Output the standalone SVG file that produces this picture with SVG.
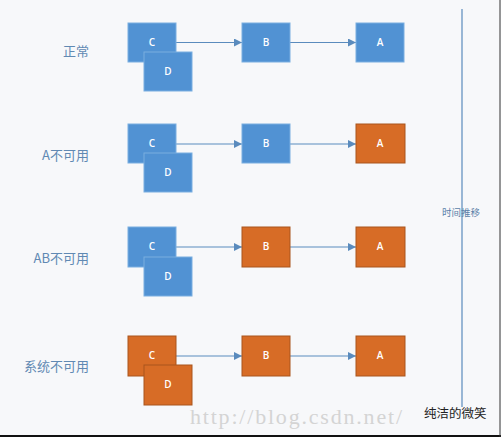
<svg xmlns="http://www.w3.org/2000/svg" width="501" height="437" viewBox="0 0 501 437">
<defs>
<marker id="ah" viewBox="0 0 10 10" refX="10" refY="5" markerWidth="8" markerHeight="8" markerUnits="userSpaceOnUse" orient="auto">
<path d="M0,0 L10,5 L0,10 z" fill="#5a8bbd"/>
</marker>
<style>
.blue{fill:#5192d3;stroke:#7aaee0;stroke-width:1}
.orange{fill:#d76c26;stroke:#a9541c;stroke-width:1}
.bl{font-family:"Open Sans","Liberation Sans",sans-serif;font-size:10px;font-weight:600;fill:#ffffff;text-anchor:middle}
.lab{font-family:"Noto Sans CJK SC","Noto Sans",sans-serif;font-size:13px;fill:#6089b3;text-anchor:end}
.con{stroke:#5a8bbd;stroke-width:1.2;fill:none}
</style>
</defs>
<rect width="501" height="437" fill="#f7f8fa"/>

<g id="labels">
<text class="lab" x="89" y="56">正常</text>
<text class="lab" x="89" y="160">A不可用</text>
<text class="lab" x="89" y="263">AB不可用</text>
<text class="lab" x="89" y="371">系统不可用</text>
</g>

<g id="connectors">
<line class="con" x1="176" y1="42.5" x2="242" y2="42.5" marker-end="url(#ah)"/>
<line class="con" x1="290" y1="42.5" x2="356" y2="42.5" marker-end="url(#ah)"/>
<line class="con" x1="176" y1="144" x2="242" y2="144" marker-end="url(#ah)"/>
<line class="con" x1="290" y1="144" x2="356" y2="144" marker-end="url(#ah)"/>
<line class="con" x1="176" y1="247" x2="242" y2="247" marker-end="url(#ah)"/>
<line class="con" x1="290" y1="247" x2="356" y2="247" marker-end="url(#ah)"/>
<line class="con" x1="176" y1="356" x2="242" y2="356" marker-end="url(#ah)"/>
<line class="con" x1="290" y1="356" x2="356" y2="356" marker-end="url(#ah)"/>
<line x1="462" y1="9" x2="462" y2="407" stroke="#5a8bbd" stroke-width="1.2"/>
</g>

<g id="row1">
<g id="r1c"><rect class="blue" x="128" y="23" width="48" height="39"/><text class="bl" x="152" y="46">C</text></g>
<g id="r1d"><rect class="blue" x="144" y="52" width="48" height="39"/><text class="bl" x="168" y="75">D</text></g>
<g id="r1b"><rect class="blue" x="242" y="23" width="48" height="39"/><text class="bl" x="266" y="46">B</text></g>
<g id="r1a"><rect class="blue" x="356" y="23" width="48" height="39"/><text class="bl" x="380" y="46">A</text></g>
</g>

<g id="row2">
<g id="r2c"><rect class="blue" x="128" y="124" width="48" height="39"/><text class="bl" x="152" y="147">C</text></g>
<g id="r2d"><rect class="blue" x="144" y="153" width="48" height="39"/><text class="bl" x="168" y="176">D</text></g>
<g id="r2b"><rect class="blue" x="242" y="124" width="48" height="39"/><text class="bl" x="266" y="147">B</text></g>
<g id="r2a"><rect class="orange" x="356" y="124" width="49" height="39"/><text class="bl" x="380" y="147">A</text></g>
</g>

<g id="row3">
<g id="r3c"><rect class="blue" x="128" y="227" width="48" height="40"/><text class="bl" x="152" y="250">C</text></g>
<g id="r3d"><rect class="blue" x="144" y="257" width="48" height="39"/><text class="bl" x="168" y="280">D</text></g>
<g id="r3b"><rect class="orange" x="242" y="227" width="48" height="40"/><text class="bl" x="266" y="250">B</text></g>
<g id="r3a"><rect class="orange" x="356" y="227" width="49" height="40"/><text class="bl" x="380" y="250">A</text></g>
</g>

<g id="row4">
<g id="r4c"><rect class="orange" x="128" y="336" width="48" height="40"/><text class="bl" x="152" y="359">C</text></g>
<g id="r4d"><rect class="orange" x="144" y="365" width="48" height="40"/><text class="bl" x="168" y="388">D</text></g>
<g id="r4b"><rect class="orange" x="242" y="336" width="48" height="40"/><text class="bl" x="266" y="359">B</text></g>
<g id="r4a"><rect class="orange" x="356" y="336" width="49" height="40"/><text class="bl" x="380" y="359">A</text></g>
</g>

<g id="timeline">
<text x="461" y="216" font-family="'Noto Sans CJK SC',sans-serif" font-size="9.5px" fill="#5a7fa8" text-anchor="middle">时间推移</text>
</g>

<g id="watermark">
<text x="190" y="424" font-family="'Liberation Serif',serif" font-size="22px" fill="#d4d4d4" letter-spacing="1.8">http://blog.csdn.net/</text>
<text x="424" y="418" font-family="'Noto Sans CJK SC',sans-serif" font-size="12.5px" fill="#222222">纯洁的微笑</text>
</g>
<line x1="0" y1="436" x2="501" y2="436" stroke="#111" stroke-width="2"/>
<line x1="500" y1="0" x2="500" y2="437" stroke="#333" stroke-width="1"/>
</svg>
